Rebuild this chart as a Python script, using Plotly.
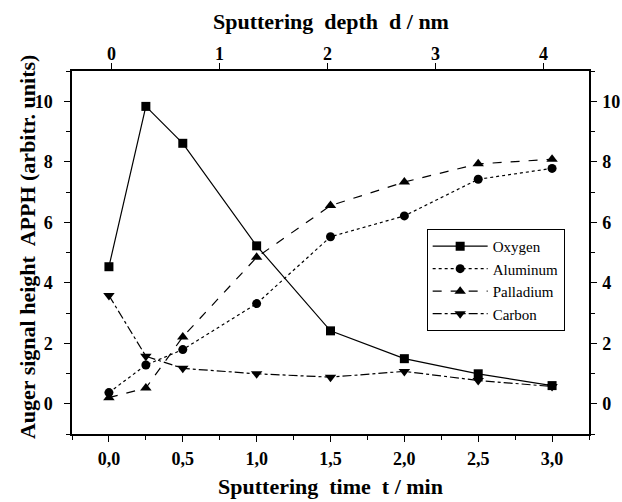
import plotly.graph_objects as go

time_min = [0.0, 0.25, 0.5, 1.0, 1.5, 2.0, 2.5, 3.0]
oxygen = [4.53, 9.83, 8.61, 5.22, 2.41, 1.49, 0.99, 0.60]
aluminum = [0.37, 1.28, 1.79, 3.31, 5.52, 6.21, 7.42, 7.78]
palladium = [0.20, 0.52, 2.21, 4.84, 6.55, 7.33, 7.93, 8.08]
carbon = [3.58, 1.57, 1.17, 0.99, 0.88, 1.07, 0.77, 0.57]

bottom_ticks = [0.0, 0.5, 1.0, 1.5, 2.0, 2.5, 3.0]
top_ticks = [0, 1, 2, 3, 4]
y_ticks = [0, 2, 4, 6, 8, 10]

SERIF = "Liberation Serif, Times New Roman, Times, serif"

series = [
    ("Oxygen", oxygen, "square", "solid", 9),
    ("Aluminum", aluminum, "circle", "dot", 9),
    ("Palladium", palladium, "triangle-up", "dash", 10),
    ("Carbon", carbon, "triangle-down", "dashdot", 10),
]

fig = go.Figure()
for name, vals, sym, dash, ms in series:
    fig.add_trace(go.Scatter(
        x=time_min, y=vals, name=name, mode="lines+markers",
        line=dict(color="black", width=1.2, dash=dash),
        marker=dict(symbol=sym, size=ms, color="black"),
    ))

# invisible helper traces so the secondary (top / right) axes get drawn
fig.add_trace(go.Scatter(x=top_ticks, y=[y_ticks[0]] * len(top_ticks), xaxis="x2", yaxis="y",
                         mode="markers", marker=dict(opacity=0), showlegend=False, hoverinfo="skip"))
fig.add_trace(go.Scatter(x=[bottom_ticks[0]] * len(y_ticks), y=y_ticks, xaxis="x", yaxis="y2",
                         mode="markers", marker=dict(opacity=0), showlegend=False, hoverinfo="skip"))

tickfont = dict(family=SERIF, size=18, color="black", weight="bold")
titlefont = dict(family=SERIF, size=22, color="black", weight="bold")

common = dict(
    ticks="outside", ticklen=6, tickwidth=1.2, tickcolor="black",
    showline=True, linecolor="black", linewidth=1.5,
    showgrid=False, zeroline=False, tickfont=tickfont, automargin=False,
)

# top-axis tick labels and title (placed as annotations for finer vertical control)
annotations = [
    dict(text=str(v), x=v, xref="x2", y=1, yref="paper", yanchor="bottom", xanchor="center",
         yshift=5, showarrow=False, font=tickfont)
    for v in top_ticks
]
annotations.append(dict(
    text="Sputtering  depth  d / nm", xref="paper", yref="paper", x=0.5, y=1,
    xanchor="center", yanchor="middle", yshift=50, showarrow=False, font=titlefont,
))
annotations.append(dict(
    text="Auger signal height  APPH (arbitr. units)",
    xref="paper", yref="paper", x=-0.087, y=0.515,
    xanchor="center", yanchor="middle", textangle=-90,
    showarrow=False, font=titlefont,
))

fig.update_layout(
    width=622, height=502,
    margin=dict(l=72, r=33, t=71, b=68),
    paper_bgcolor="white", plot_bgcolor="white",
    separators=",.",
    font=dict(family=SERIF, color="black"),
    showlegend=True,
    legend=dict(
        x=0.686, y=0.565, xanchor="left", yanchor="top",
        bordercolor="black", borderwidth=1, bgcolor="white",
        font=dict(family=SERIF, size=15, color="black"),
        itemwidth=55, tracegroupgap=0,
    ),
    xaxis=dict(
        range=[-0.25, 3.25], tickvals=bottom_ticks, tickformat=".1f",
        minor=dict(dtick=0.25, tick0=0, ticks="outside", ticklen=4, tickcolor="black"),
        ticklabelstandoff=2,
        title=dict(text="Sputtering  time  t / min", font=titlefont, standoff=10),
        **common,
    ),
    xaxis2=dict(
        overlaying="x", side="top", anchor="y",
        range=[-0.37, 4.42], tickvals=top_ticks, showticklabels=False,
        **common,
    ),
    yaxis=dict(
        range=[-1, 11], tickvals=y_ticks,
        minor=dict(dtick=1, tick0=0, ticks="outside", ticklen=4, tickcolor="black"),
        ticklabelstandoff=8,
        **common,
    ),
    yaxis2=dict(
        overlaying="y", side="right", anchor="x",
        range=[-1, 11], tickvals=y_ticks,
        minor=dict(dtick=1, tick0=0, ticks="outside", ticklen=4, tickcolor="black"),
        ticklabelstandoff=2,
        **common,
    ),
    annotations=annotations,
)

fig.write_html("out.html")
